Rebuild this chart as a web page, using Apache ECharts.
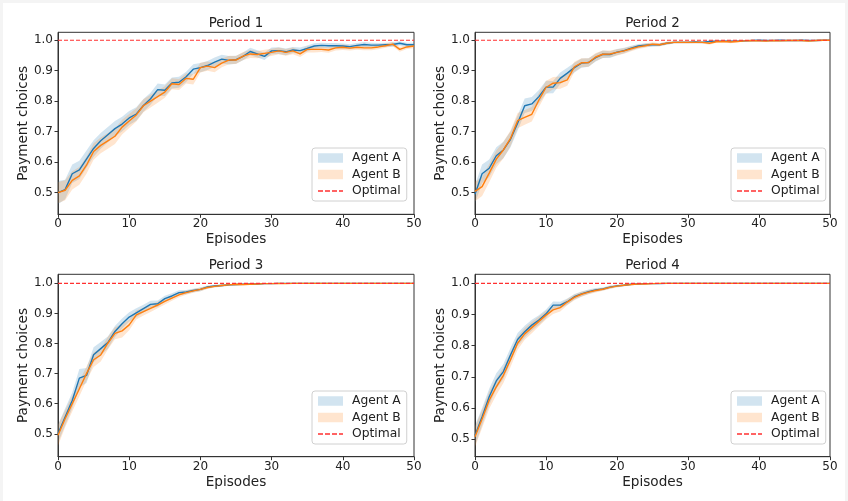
<!DOCTYPE html>
<html><head><meta charset="utf-8">
<script src="https://cdn.jsdelivr.net/npm/echarts@6/dist/echarts.min.js"></script>
<style>
html,body{margin:0;padding:0;background:#f4f4f4;}
#bg{position:absolute;left:3px;top:3px;width:842px;height:498px;background:#fff;}
#chart{position:absolute;left:0;top:0;width:848px;height:501px;}
</style>
</head><body><div id="bg"></div><div id="chart"></div>
<script>
// ---------------- data ----------------
const episodes = [0,1,2,3,4,5,6,7,8,9,10,11,12,13,14,15,16,17,18,19,20,21,22,23,24,25,26,27,28,29,30,31,32,33,34,35,36,37,38,39,40,41,42,43,44,45,46,47,48,49,50];
const titles = ['Period 1','Period 2','Period 3','Period 4'];
const seriesNames = ['Agent A','Agent B','Optimal'];
const optimalValue = 1.0;
const yTicks = [0.5,0.6,0.7,0.8,0.9,1.0];
const xTickStep = 10;

const p1A = [0.500,0.510,0.562,0.575,0.610,0.645,0.670,0.690,0.710,0.725,0.745,0.758,0.786,0.808,0.838,0.836,0.860,0.862,0.880,0.905,0.910,0.917,0.928,0.938,0.934,0.936,0.947,0.963,0.955,0.947,0.965,0.966,0.962,0.968,0.966,0.973,0.981,0.983,0.982,0.982,0.981,0.979,0.983,0.986,0.984,0.984,0.985,0.986,0.990,0.985,0.985];
const p1B = [0.500,0.508,0.540,0.555,0.590,0.635,0.655,0.670,0.685,0.715,0.735,0.755,0.785,0.800,0.815,0.830,0.857,0.855,0.875,0.872,0.910,0.915,0.910,0.925,0.935,0.935,0.948,0.955,0.953,0.957,0.960,0.965,0.960,0.965,0.955,0.970,0.970,0.970,0.968,0.975,0.977,0.974,0.977,0.975,0.975,0.978,0.982,0.987,0.970,0.978,0.981];
const p1Aerr = [0.038,0.032,0.030,0.030,0.028,0.027,0.026,0.025,0.025,0.024,0.023,0.022,0.021,0.020,0.020,0.019,0.018,0.018,0.017,0.016,0.015,0.015,0.015,0.014,0.014,0.013,0.013,0.012,0.012,0.012,0.011,0.011,0.011,0.010,0.010,0.010,0.009,0.009,0.009,0.009,0.008,0.008,0.008,0.008,0.008,0.007,0.007,0.007,0.007,0.007,0.007];
const p1Berr = [0.035,0.033,0.030,0.029,0.028,0.027,0.026,0.026,0.025,0.024,0.023,0.022,0.021,0.021,0.020,0.019,0.018,0.018,0.017,0.017,0.016,0.015,0.015,0.014,0.014,0.013,0.013,0.013,0.012,0.012,0.012,0.011,0.011,0.011,0.010,0.010,0.010,0.009,0.009,0.009,0.009,0.008,0.008,0.008,0.008,0.008,0.007,0.007,0.008,0.007,0.007];

const p2A = [0.495,0.562,0.580,0.621,0.640,0.675,0.728,0.785,0.791,0.815,0.846,0.846,0.875,0.892,0.910,0.925,0.927,0.943,0.954,0.953,0.961,0.966,0.974,0.981,0.984,0.985,0.985,0.990,0.993,0.993,0.993,0.994,0.993,0.996,0.997,0.997,0.997,0.997,0.998,0.999,1.000,0.999,0.999,1.000,0.999,0.999,1.000,0.999,0.999,1.000,1.000];
const p2B = [0.504,0.520,0.564,0.610,0.640,0.678,0.736,0.747,0.757,0.804,0.845,0.859,0.861,0.870,0.913,0.926,0.927,0.945,0.954,0.955,0.960,0.965,0.972,0.978,0.982,0.987,0.985,0.990,0.993,0.993,0.993,0.993,0.993,0.990,0.995,0.996,0.994,0.996,0.998,0.999,0.998,0.997,0.999,0.998,0.999,0.999,0.999,0.997,0.999,1.000,1.000];
const p2Aerr = [0.030,0.030,0.029,0.028,0.027,0.026,0.025,0.024,0.023,0.022,0.021,0.020,0.019,0.018,0.016,0.015,0.014,0.013,0.012,0.011,0.010,0.009,0.008,0.007,0.006,0.006,0.005,0.005,0.004,0.004,0.004,0.004,0.004,0.003,0.003,0.003,0.003,0.003,0.002,0.002,0.002,0.002,0.002,0.002,0.002,0.002,0.002,0.002,0.002,0.001,0.001];
const p2Berr = [0.032,0.031,0.030,0.028,0.027,0.026,0.025,0.024,0.024,0.023,0.021,0.020,0.020,0.019,0.016,0.015,0.014,0.013,0.012,0.011,0.010,0.009,0.008,0.007,0.007,0.006,0.005,0.005,0.004,0.004,0.004,0.004,0.004,0.005,0.003,0.003,0.004,0.003,0.002,0.002,0.002,0.003,0.002,0.002,0.002,0.002,0.002,0.003,0.002,0.001,0.001];

const p3A = [0.500,0.556,0.611,0.685,0.694,0.763,0.783,0.803,0.840,0.866,0.888,0.902,0.916,0.930,0.932,0.949,0.958,0.969,0.971,0.976,0.980,0.988,0.991,0.993,0.995,0.996,0.997,0.998,0.998,0.999,0.999,1.000,1.000,1.000,1.000,1.000,1.000,1.000,1.000,1.000,1.000,1.000,1.000,1.000,1.000,1.000,1.000,1.000,1.000,1.000,1.000];
const p3B = [0.495,0.550,0.600,0.650,0.700,0.746,0.762,0.801,0.834,0.842,0.862,0.895,0.906,0.917,0.928,0.940,0.951,0.962,0.969,0.975,0.980,0.986,0.990,0.993,0.995,0.997,0.996,0.997,0.998,0.999,0.999,1.000,0.999,1.000,1.000,1.000,1.000,1.000,1.000,1.000,1.000,1.000,1.000,1.000,1.000,1.000,1.000,1.000,1.000,1.000,1.000];
const p3Aerr = [0.030,0.028,0.026,0.030,0.025,0.025,0.022,0.020,0.018,0.017,0.016,0.015,0.013,0.012,0.011,0.010,0.009,0.008,0.007,0.006,0.006,0.005,0.004,0.004,0.003,0.003,0.002,0.002,0.002,0.001,0.001,0.001,0.001,0.001,0.001,0.000,0.000,0.000,0.000,0.000,0.000,0.000,0.000,0.000,0.000,0.000,0.000,0.000,0.000,0.000,0.000];
const p3Berr = [0.035,0.028,0.026,0.025,0.024,0.024,0.022,0.021,0.020,0.022,0.018,0.015,0.013,0.012,0.011,0.010,0.009,0.008,0.007,0.006,0.006,0.005,0.004,0.004,0.003,0.003,0.003,0.002,0.002,0.001,0.001,0.001,0.001,0.001,0.001,0.000,0.000,0.000,0.000,0.000,0.000,0.000,0.000,0.000,0.000,0.000,0.000,0.000,0.000,0.000,0.000];

const p4A = [0.512,0.572,0.636,0.687,0.717,0.770,0.820,0.845,0.866,0.882,0.902,0.930,0.930,0.941,0.957,0.966,0.973,0.979,0.982,0.988,0.992,0.994,0.997,0.998,0.999,0.999,0.999,1.000,1.000,1.000,1.000,1.000,1.000,1.000,1.000,1.000,1.000,1.000,1.000,1.000,1.000,1.000,1.000,1.000,1.000,1.000,1.000,1.000,1.000,1.000,1.000];
const p4B = [0.508,0.565,0.625,0.668,0.705,0.755,0.808,0.838,0.858,0.878,0.898,0.915,0.922,0.940,0.955,0.965,0.972,0.977,0.981,0.987,0.991,0.994,0.996,0.998,0.998,0.999,1.000,1.000,1.000,1.000,1.000,1.000,1.000,1.000,1.000,1.000,1.000,1.000,1.000,1.000,1.000,1.000,1.000,1.000,1.000,1.000,1.000,1.000,1.000,1.000,1.000];
const p4Aerr = [0.032,0.028,0.026,0.025,0.024,0.023,0.021,0.019,0.017,0.016,0.014,0.012,0.011,0.010,0.009,0.008,0.007,0.006,0.005,0.005,0.004,0.003,0.003,0.002,0.002,0.001,0.001,0.001,0.001,0.001,0.000,0.000,0.000,0.000,0.000,0.000,0.000,0.000,0.000,0.000,0.000,0.000,0.000,0.000,0.000,0.000,0.000,0.000,0.000,0.000,0.000];
const p4Berr = [0.033,0.029,0.027,0.026,0.025,0.023,0.021,0.019,0.018,0.016,0.014,0.013,0.012,0.010,0.009,0.008,0.007,0.006,0.005,0.005,0.004,0.003,0.003,0.002,0.002,0.001,0.001,0.001,0.001,0.001,0.000,0.000,0.000,0.000,0.000,0.000,0.000,0.000,0.000,0.000,0.000,0.000,0.000,0.000,0.000,0.000,0.000,0.000,0.000,0.000,0.000];

const yRanges = [[0.429,1.026],[0.429,1.026],[0.424,1.030],[0.444,1.029]];

// ---------------- layout / style ----------------
const FONT = 'DejaVu Sans';
const TXT = '#222';
const colA = '#1f77b4', colB = '#ff7f0e';
const fillA = 'rgba(31,119,180,0.2)', fillB = 'rgba(255,127,14,0.2)';
const grids = [
  {left:58, top:32.3, width:356, height:182},
  {left:475, top:32.3, width:355, height:182},
  {left:58, top:274.3, width:356, height:182.4},
  {left:475, top:274.3, width:355, height:182.4}
];
const legendPos = [{left:312, top:148},{left:731, top:148},{left:312, top:391},{left:731, top:391}];
const panels = [
  {a:p1A, b:p1B, ae:p1Aerr, be:p1Berr},
  {a:p2A, b:p2B, ae:p2Aerr, be:p2Berr},
  {a:p3A, b:p3B, ae:p3Aerr, be:p3Berr},
  {a:p4A, b:p4B, ae:p4Aerr, be:p4Berr}
];

function bandSeries(name, i, mean, err, fill) {
  return {
    name: name, type:'custom', xAxisIndex:i, yAxisIndex:i, silent:true, clip:true,
    itemStyle:{color:fill},
    data: episodes.map((e,k)=>[e, mean[k]-err[k], mean[k]+err[k]]),
    renderItem: function(params, api) {
      if (params.dataIndex !== 0) return null;
      const upper = [], lower = [];
      for (let k = 0; k < episodes.length; k++) {
        upper.push(api.coord([episodes[k], mean[k]+err[k]]));
        lower.push(api.coord([episodes[k], mean[k]-err[k]]));
      }
      return {type:'polygon', shape:{points: upper.concat(lower.reverse())}, style:{fill:fill, stroke:null}};
    }
  };
}

const xAxes = [], yAxes = [], series = [], legends = [], graphics = [];
panels.forEach((p, i) => {
  const g = grids[i];
  xAxes.push({
    gridIndex:i, type:'value', min:0, max:50, interval:xTickStep,
    name:'Episodes', nameLocation:'middle', nameGap:18.5,
    nameTextStyle:{fontSize:13.6, color:TXT, fontFamily:FONT},
    axisLine:{show:true, lineStyle:{color:'#333', width:1}},
    axisTick:{show:true, length:3.5, lineStyle:{color:'#333'}},
    axisLabel:{fontSize:12, color:TXT, fontFamily:FONT, margin:4},
    splitLine:{show:false}
  });
  yAxes.push({
    gridIndex:i, type:'value', min:yRanges[i][0], max:yRanges[i][1],
    name:'Payment choices', nameLocation:'middle', nameGap:28,
    nameTextStyle:{fontSize:13.6, color:TXT, fontFamily:FONT},
    axisLine:{show:true, lineStyle:{color:'#333', width:1}},
    axisTick:{show:true, length:3.5, lineStyle:{color:'#333'}, customValues:yTicks},
    axisLabel:{fontSize:12, color:TXT, fontFamily:FONT, margin:5, customValues:yTicks, formatter:v=>v.toFixed(1)},
    splitLine:{show:false}
  });
  const base = {type:'line', xAxisIndex:i, yAxisIndex:i, symbol:'none', showSymbol:false, silent:true};
  series.push(bandSeries('Agent A', i, p.a, p.ae, fillA));
  series.push(Object.assign({}, base, {name:'meanA'+i, lineStyle:{color:colA, width:1.4}, itemStyle:{color:colA},
    data: episodes.map((e,k)=>[e, p.a[k]])}));
  series.push(bandSeries('Agent B', i, p.b, p.be, fillB));
  series.push(Object.assign({}, base, {name:'meanB'+i, lineStyle:{color:colB, width:1.4}, itemStyle:{color:colB},
    data: episodes.map((e,k)=>[e, p.b[k]])}));
  series.push(Object.assign({}, base, {name:'Optimal',
    itemStyle:{color:'#ff3030'}, lineStyle:{color:'#ff3030', width:1.2, type:[4,2]},
    data: [[episodes[0], optimalValue],[episodes[episodes.length-1], optimalValue]]}));

  legends.push({
    orient:'vertical', left:legendPos[i].left, top:legendPos[i].top, selectedMode:false, z:10,
    itemWidth:25, itemHeight:9.5, itemGap:4.5, padding:[4,6,4,6],
    backgroundColor:'#fff', borderColor:'#d0d0d0', borderWidth:1, borderRadius:3,
    textStyle:{fontSize:12.3, color:TXT, fontFamily:FONT, padding:[0,0,0,4]},
    data:[
      {name:seriesNames[0], icon:'rect', itemStyle:{color:fillA, borderWidth:0}},
      {name:seriesNames[1], icon:'rect', itemStyle:{color:fillB, borderWidth:0}},
      {name:seriesNames[2], icon:'path://M0,0h5v1.4h-5zM7,0h5v1.4h-5zM14,0h5v1.4h-5zM21,0h4v1.4h-4z',
        itemStyle:{color:'#ff3030', borderWidth:0}}
    ]
  });
  graphics.push({type:'text', x:g.left + g.width/2, y:g.top - 9,
    style:{text:titles[i], fontSize:13.4, fontFamily:FONT, fill:TXT, align:'center', verticalAlign:'middle'}});
});

const chart = echarts.init(document.getElementById('chart'), null, {renderer:'canvas'});
chart.setOption({
  backgroundColor:'transparent',
  animation:false,
  grid: grids.map(g => Object.assign({show:true, borderColor:'#333', borderWidth:1, backgroundColor:'transparent'}, g)),
  xAxis: xAxes, yAxis: yAxes, series: series, legend: legends, graphic: graphics
});
</script>
</body></html>
